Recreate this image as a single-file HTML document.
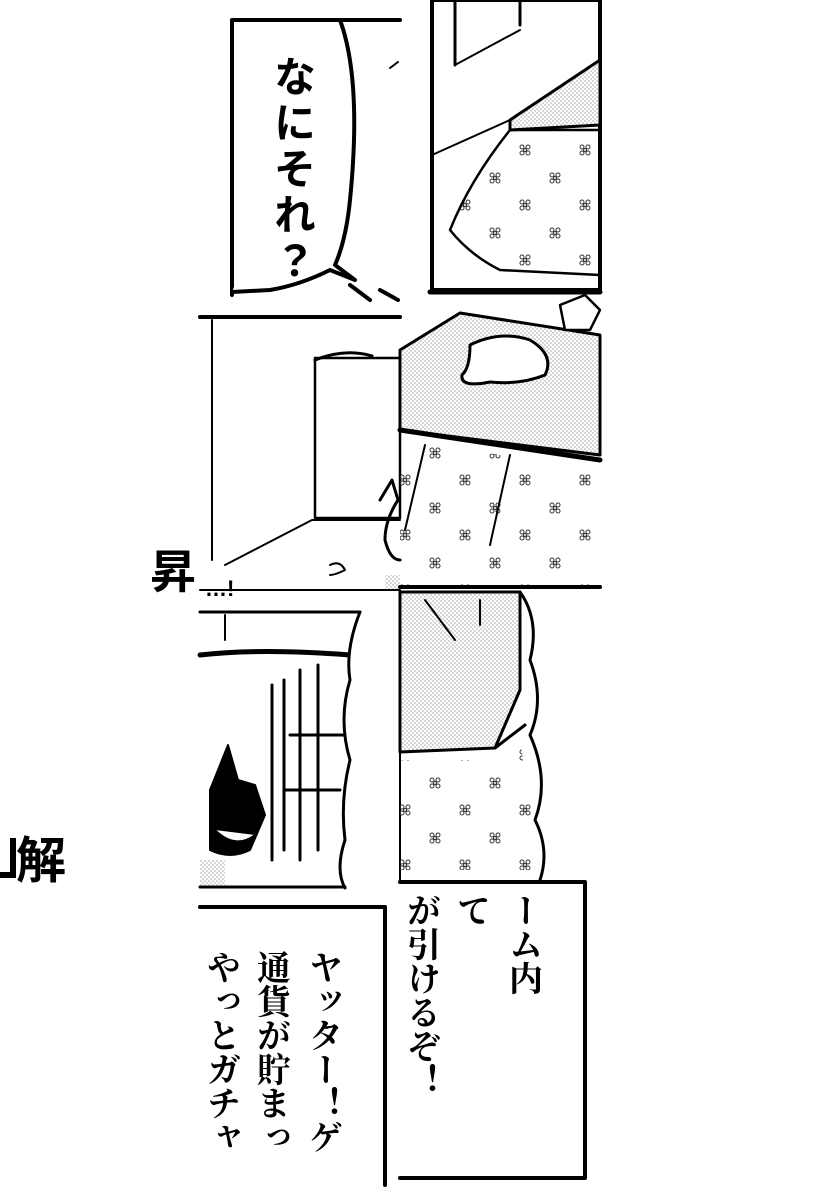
<!DOCTYPE html>
<html><head><meta charset="utf-8"><style>
html,body{margin:0;padding:0;background:#fff;width:820px;height:1200px;overflow:hidden}
svg{display:block}
text{font-family:"Liberation Sans","Noto Sans CJK JP",sans-serif}
text.ser{font-family:"Liberation Serif","Noto Serif CJK SC",serif}
</style></head><body>
<svg width="820" height="1200" viewBox="0 0 820 1200" xmlns="http://www.w3.org/2000/svg">
<defs>
<pattern id="dots" width="4" height="4" patternUnits="userSpaceOnUse"><rect width="4" height="4" fill="#fff"/><circle cx="1" cy="1" r="0.7" fill="#999"/><circle cx="3" cy="3" r="0.7" fill="#999"/></pattern>
<pattern id="flw" width="60" height="55" patternUnits="userSpaceOnUse">
<g fill="none" stroke="#333" stroke-width="1"><circle cx="12" cy="10" r="2"/><circle cx="18" cy="10" r="2"/><circle cx="12" cy="16" r="2"/><circle cx="18" cy="16" r="2"/><circle cx="15" cy="13" r="1.5"/>
<circle cx="42" cy="37" r="2"/><circle cx="48" cy="37" r="2"/><circle cx="42" cy="43" r="2"/><circle cx="48" cy="43" r="2"/><circle cx="45" cy="40" r="1.5"/></g></pattern>
</defs>
<rect width="820" height="1200" fill="#fff"/>
<g fill="none" stroke="#000" stroke-linecap="round" stroke-linejoin="round">

<path d="M232 295 V20 H400" stroke-width="4"/>
<path d="M340 20 Q362 80 350 200 Q346 240 335 265 L355 280 L330 270 Q300 285 270 290 L232 292" stroke-width="4" fill="#fff"/>
<path d="M350 285 L370 300 M380 290 L398 300" stroke-width="4"/>
<path d="M390 68 L398 62" stroke-width="2"/>

<rect x="432" y="0" width="168" height="290" stroke-width="4"/>
<path d="M432 155 L510 120 L600 95" stroke-width="2"/>
<path d="M455 0 V65 M520 0 V25" stroke-width="3"/>
<path d="M455 65 L520 30" stroke-width="2"/>
<polygon points="510,120 600,60 600,125 510,130" fill="url(#dots)" stroke-width="3"/>
<path d="M510 130 Q470 180 450 230 Q470 255 500 270 L600 275 V130 Z" fill="url(#flw)" stroke-width="2.5"/>

<path d="M200 317 H400" stroke-width="4"/>
<path d="M212 320 V560" stroke-width="2"/>
<rect x="315" y="358" width="85" height="160" stroke-width="2.5"/>
<path d="M315 360 Q345 348 372 356" stroke-width="3"/>
<path d="M225 565 L312 520 H400" stroke-width="2"/>
<path d="M330 565 Q340 560 345 570 Q335 575 330 575" stroke-width="2"/>
<path d="M380 500 L392 480 L398 500 Q385 520 385 540 Q390 560 400 560" stroke-width="3"/>
<rect x="385" y="575" width="15" height="15" fill="url(#dots)" stroke="none"/>
<path d="M200 590 H400" stroke-width="2"/>

<path d="M430 292 H600" stroke-width="5"/>
<polygon points="400,350 460,313 600,335 600,455 400,430" fill="url(#dots)" stroke-width="3"/>
<path d="M400 430 L600 460" stroke-width="5"/>
<path d="M400 440 L600 470 V585 H400 Z" fill="url(#flw)" stroke="none"/>
<path d="M405 530 L425 445 M490 545 L510 455" stroke-width="2"/>
<path d="M470 345 Q500 330 530 340 Q555 355 545 375 Q520 385 490 382 Q460 388 462 375 Q470 368 470 345 Z" fill="#fff" stroke-width="3"/>
<path d="M560 305 L585 295 L600 310 L590 330 L565 330 Z" fill="#fff" stroke-width="2.5"/>
<path d="M400 587 H600" stroke-width="4"/>

<path d="M200 612 H360" stroke-width="3"/>
<path d="M225 615 V640" stroke-width="2"/>
<path d="M200 655 Q260 648 350 655" stroke-width="5"/>
<path d="M272 685 V860 M284 680 V850 M300 670 V860 M318 665 V850" stroke-width="3"/>
<path d="M290 735 H345 M285 790 H340" stroke-width="3"/>
<path d="M360 612 Q345 650 350 680 Q338 720 350 760 Q340 800 345 840 Q335 870 345 888" stroke-width="3" fill="#fff"/>
<path d="M210 790 L228 745 L238 780 L255 785 L265 815 L250 850 Q230 860 210 850 Z" fill="#000" stroke-width="2"/>
<path d="M215 830 Q235 850 255 835" stroke-width="2" fill="#fff"/>
<rect x="200" y="860" width="25" height="25" fill="url(#dots)" stroke="none"/>
<path d="M200 887 H345" stroke-width="3"/>

<path d="M400 592 V880" stroke-width="2"/>
<polygon points="400,592 520,592 520,690 495,748 400,752" fill="url(#dots)" stroke-width="3"/>
<path d="M495 748 L525 725" stroke-width="3"/>
<path d="M400 760 H500 L520 735 Q525 780 530 800 L540 830 L530 870 L400 870 Z" fill="url(#flw)" stroke="none"/>
<path d="M520 592 Q540 620 530 660 Q545 700 530 735 Q550 780 535 820 Q550 850 540 880" stroke-width="3"/>
<path d="M425 600 L440 620 L455 640 M480 600 V625" stroke-width="2"/>

<path d="M200 907 H385 V1185" stroke-width="4"/>
<path d="M400 882 H585 V1178 H400" stroke-width="4"/>
</g>

<text x="150" y="588" font-size="46" font-weight="bold" fill="#000">昇</text>
<text x="205" y="596" font-size="22" font-weight="bold" fill="#000">…!</text>
<text x="16" y="878" font-size="50" font-weight="bold" fill="#000">解</text>
<rect x="0" y="838" width="16" height="40" fill="#000"/>
<rect x="0" y="838" width="10" height="34" fill="#fff"/>

<g font-weight="bold" fill="#000" style="writing-mode:vertical-rl" font-size="42">
<text x="292" y="55" letter-spacing="4">なにそれ？</text>
</g>
<g fill="#000" style="writing-mode:vertical-rl" font-size="34" font-weight="bold">
<text class="ser" x="322" y="950">ヤッター！ゲ</text>
<text class="ser" x="270" y="950">通貨が貯まっ</text>
<text class="ser" x="220" y="950">やっとガチャ</text>
<text class="ser" x="522" y="893">ーム内</text>
<text class="ser" x="470" y="893">て</text>
<text class="ser" x="420" y="893">が引けるぞ！</text>
</g>
</svg>
</body></html>
